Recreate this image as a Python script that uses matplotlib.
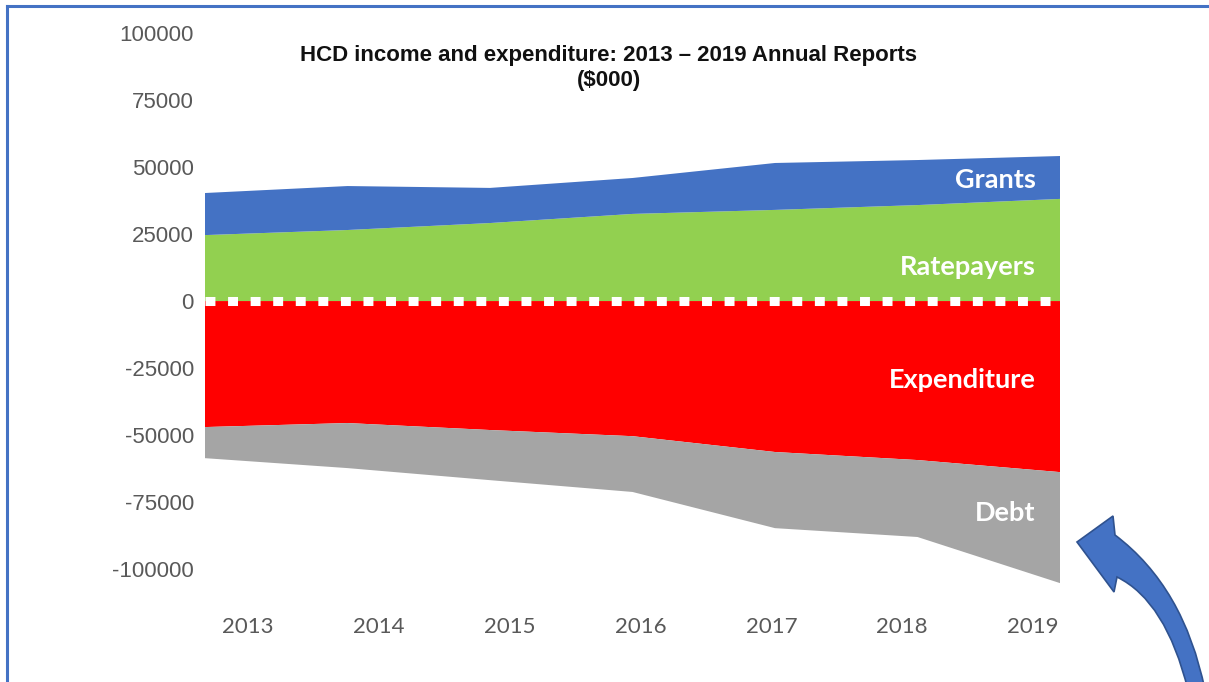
import matplotlib
matplotlib.use('Agg')
import matplotlib.pyplot as plt
from matplotlib.lines import Line2D
from matplotlib.patches import PathPatch
from matplotlib.path import Path

# values in $000
years = [2013, 2014, 2015, 2016, 2017, 2018, 2019]
ratepayers = [24600, 26500, 29100, 32500, 34000, 35800, 38100]
grants = [15700, 16400, 13100, 13400, 17500, 16800, 16000]
expenditure = [-47000, -45500, -48100, -50400, -56300, -59300, -63800]
debt = [-11600, -16800, -18700, -20800, -28400, -28700, -41400]

yticks = list(range(-100000, 100001, 25000))
title = "HCD income and expenditure: 2013 \u2013 2019 Annual Reports\n($000)"

c_blue = '#4472C4'
c_green = '#92D050'
c_red = '#FF0000'
c_grey = '#A5A5A5'
c_text = '#595959'

W, H = 1209, 682
fig = plt.figure(figsize=(W / 100, H / 100), dpi=100)
fig.patch.set_facecolor('white')

ax = fig.add_axes([205 / W, (H - 600) / H, 855 / W, 570 / H])
ax.stackplot(years, ratepayers, grants, colors=[c_green, c_blue], linewidth=0)
ax.stackplot(years, expenditure, debt, colors=[c_red, c_grey], linewidth=0)
ax.plot([years[0], years[-1]], [0, 0], color='white', lw=6.5,
        ls=(0, (1.1, 1.4)), solid_capstyle='butt', dash_capstyle='butt')

ax.set_xlim(years[0], years[-1])
ax.set_ylim(-111500, 101100)
ax.set_yticks(yticks)
ax.set_yticklabels([str(v) for v in yticks], family='Liberation Sans',
                   fontsize=16, color=c_text)
ax.tick_params(axis='y', length=0, pad=8)
ax.set_xticks([])
for s in ax.spines.values():
    s.set_visible(False)

# year labels sit on their own scale, slightly inset from the area
ax2 = ax.twiny()
ax2.set_xlim(2012.671, 2019.206)
ax2.xaxis.set_ticks_position('bottom')
ax2.set_xticks(years)
ax2.set_xticklabels([str(y) for y in years], family='Lato', fontsize=16,
                    color=c_text)
ax2.tick_params(axis='x', length=0, pad=12.5)
for s in ax2.spines.values():
    s.set_visible(False)

# series names
lab_kw = dict(ha='right', va='center', color='white', family='Lato',
              fontweight='bold', fontsize=19.5)
ax.text(2018.83, 45100, 'Grants', **lab_kw)
ax.text(2018.83, 12700, 'Ratepayers', **lab_kw)
ax.text(2018.83, -29500, 'Expenditure', **lab_kw)
ax.text(2018.83, -79100, 'Debt', **lab_kw)

fig.text(609 / W, 1 - 68 / H, title, ha='center', va='center',
         family='Liberation Sans', fontweight='bold', fontsize=16,
         color='#111111', linespacing=1.2)

# frame around the slide (top and left edges only are visible)
fig.add_artist(Line2D([7 / W, 1], [1 - 6 / H, 1 - 6 / H], color=c_blue,
                      lw=2.2, transform=fig.transFigure))
fig.add_artist(Line2D([7 / W, 7 / W], [0, 1 - 6 / H], color=c_blue,
                      lw=2.2, transform=fig.transFigure))

# curved call-out arrow (slide shape), outline in pixels
def px(x, y):
    return (x / W, 1 - y / H)

arrow_pts = [(1077, 542), (1113, 516), (1115, 535), (1184, 587), (1205, 690),
             (1188, 690), (1166, 601), (1117, 577), (1114, 592), (1077, 542)]
arrow_codes = [Path.MOVETO, Path.LINETO, Path.LINETO, Path.CURVE3, Path.CURVE3,
               Path.LINETO, Path.CURVE3, Path.CURVE3, Path.LINETO, Path.CLOSEPOLY]
arrow = PathPatch(Path([px(x, y) for x, y in arrow_pts], arrow_codes),
                  transform=fig.transFigure, facecolor=c_blue,
                  edgecolor='#2F528F', lw=1.2, joinstyle='miter', clip_on=False)
fig.add_artist(arrow)

fig.savefig('out.png', dpi=100)
